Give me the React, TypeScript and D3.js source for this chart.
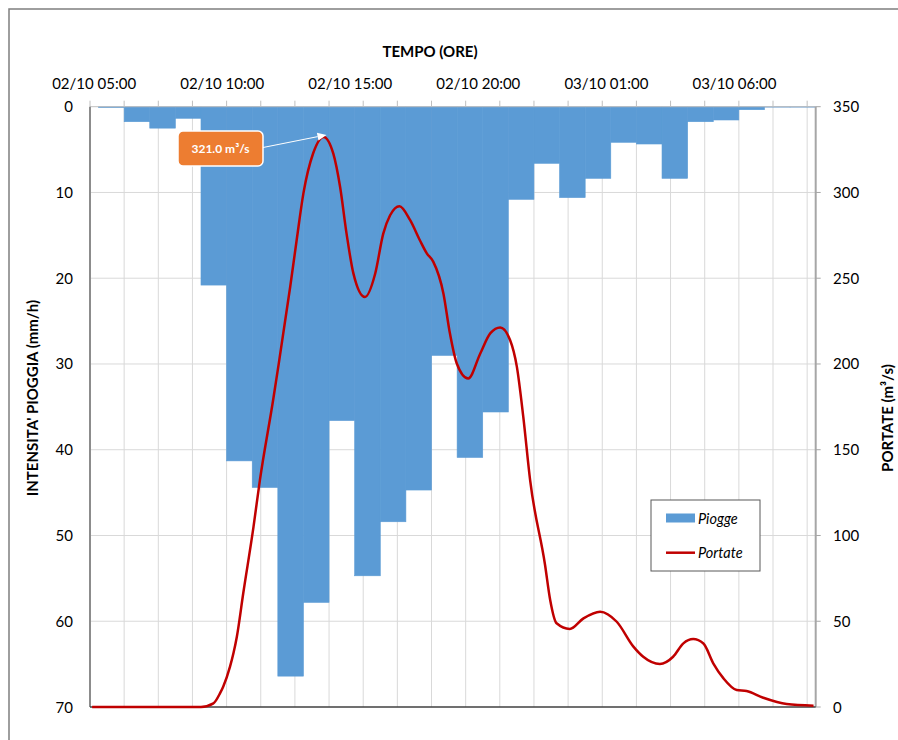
import React from 'react';
import * as d3 from 'd3';

const parse = d3.timeParse('%d/%m %H:%M');

// Hourly rainfall intensity (mm/h), each bar starts at the given time and lasts one hour
const rainStart = [
  '02/10 05:15', '02/10 06:15', '02/10 07:15', '02/10 08:15', '02/10 09:15', '02/10 10:15', '02/10 11:15',
  '02/10 12:15', '02/10 13:15', '02/10 14:15', '02/10 15:15', '02/10 16:15', '02/10 17:15', '02/10 18:15',
  '02/10 19:15', '02/10 20:15', '02/10 21:15', '02/10 22:15', '02/10 23:15', '03/10 00:15', '03/10 01:15',
  '03/10 02:15', '03/10 03:15', '03/10 04:15', '03/10 05:15', '03/10 06:15', '03/10 07:15', '03/10 08:15',
];
const rainValues = [
  0.1, 1.75, 2.5, 1.35, 20.8, 41.3, 44.4, 66.4, 57.8, 36.6, 54.7, 48.4, 44.7, 29.0,
  40.9, 35.6, 10.8, 6.6, 10.6, 8.35, 4.15, 4.35, 8.35, 1.75, 1.55, 0.35, 0.05, 0.05,
];

// Discharge (m3/s)
const flowTimes = [
  '02/10 05:00', '02/10 09:15', '02/10 09:44', '02/10 10:00', '02/10 10:07', '02/10 10:23', '02/10 10:31',
  '02/10 10:39', '02/10 10:54', '02/10 11:18', '02/10 11:33', '02/10 12:04', '02/10 12:16', '02/10 12:44',
  '02/10 12:59', '02/10 13:15', '02/10 13:38', '02/10 14:02', '02/10 14:25', '02/10 14:41', '02/10 14:56',
  '02/10 15:12', '02/10 15:39', '02/10 16:03', '02/10 16:22', '02/10 16:38', '02/10 17:00', '02/10 17:25',
  '02/10 17:48', '02/10 18:04', '02/10 18:19', '02/10 18:43', '02/10 18:58', '02/10 19:14', '02/10 19:41',
  '02/10 20:09', '02/10 20:33', '02/10 20:56', '02/10 21:19', '02/10 21:35', '02/10 21:50', '02/10 22:06',
  '02/10 22:41', '02/10 22:53', '02/10 23:08', '02/10 23:39', '03/10 00:11', '03/10 00:50', '03/10 01:29',
  '03/10 02:08', '03/10 02:31', '03/10 03:10', '03/10 03:41', '03/10 04:05', '03/10 04:28', '03/10 04:52',
  '03/10 05:15', '03/10 05:39', '03/10 06:10', '03/10 06:33', '03/10 07:12', '03/10 08:07', '03/10 09:10',
];
const flowValues = [
  0, 0, 2.1, 8.2, 11.8, 23.5, 31.3,
  41, 66.3, 105, 132.3, 179, 198.3, 245,
  272, 299.6, 323, 332.4, 322.6, 303, 276,
  252.8, 239, 252.6, 276, 286.7, 292, 283.8,
  272, 264.5, 259.7, 241, 218, 200.4, 191.5,
  206, 218, 221.3, 214, 198.3, 169.2, 132.3,
  82.8, 62.4, 48.8, 45.5, 51.7, 55.6, 49.7,
  35.2, 29.3, 25.1, 29.3, 37.1, 39.6, 37,
  25.5, 16.7, 9.9, 9.3, 5.4, 1.7, 0.8,
];

const topTickLabels = ['02/10 05:00', '02/10 10:00', '02/10 15:00', '02/10 20:00', '03/10 01:00', '03/10 06:00'];
const rainTicks = [0, 10, 20, 30, 40, 50, 60, 70];
const flowTicks = [0, 50, 100, 150, 200, 250, 300, 350];
const xDomain = ['02/10 04:55', '03/10 09:15'];
const gridStepMinutes = 80;
const peakLabel = '321.0 m³/s';
const peakTime = '02/10 14:02';
const peakValue = 332.4;

const FONT = 'Lato, "Open Sans", sans-serif';

export default function App() {
  const W = 898;
  const H = 740;
  const left = 90;
  const right = 815.7;
  const top = 106.7;
  const bottom = 707;

  const d0 = parse(xDomain[0])!;
  const d1 = parse(xDomain[1])!;
  const x = d3.scaleTime().domain([d0, d1]).range([left, right]);
  const yR = d3.scaleLinear().domain([0, 70]).range([top, bottom]);
  const yQ = d3.scaleLinear().domain([0, 350]).range([bottom, top]);

  const nGrid = Math.floor((+d1 - +d0) / (gridStepMinutes * 60000));
  const gridTimes = d3.range(0, nGrid + 1).map((k) => d3.timeMinute.offset(d0, gridStepMinutes * k));

  const bars = rainStart.map((s, i) => {
    const t = parse(s)!;
    return { t0: t, t1: d3.timeHour.offset(t, 1), v: rainValues[i] };
  });
  const flow = flowTimes.map((s, i) => ({ t: parse(s)!, v: flowValues[i] }));
  const line = d3
    .line<{ t: Date; v: number }>()
    .x((d) => x(d.t))
    .y((d) => yQ(d.v))
    .curve(d3.curveMonotoneX);

  const px = x(parse(peakTime)!);
  const py = yQ(peakValue);
  const boxX = 178;
  const boxY = 131;
  const boxW = 85;
  const boxH = 35;
  const ax0 = boxX + boxW;
  const ay0 = boxY + 16.5;
  const ax1 = px + 3;
  const ay1 = py - 2;
  const ang = Math.atan2(ay1 - ay0, ax1 - ax0);
  const ah = 9;
  const aw = 4;
  const bx = ax1 - ah * Math.cos(ang);
  const by = ay1 - ah * Math.sin(ang);
  const arrowHead = `M${ax1},${ay1} L${bx - aw * Math.sin(ang)},${by + aw * Math.cos(ang)} L${bx + aw * Math.sin(ang)},${by - aw * Math.cos(ang)} Z`;

  return (
    <svg width={W} height={H} style={{ position: 'absolute', left: 0, top: 0, background: '#fff' }} fontFamily={FONT}>
      <rect x={0} y={0} width={W} height={H} fill="#fff" />
      <rect x={9} y={9} width={W + 20} height={H + 20} fill="#fff" stroke="#7f7f7f" strokeWidth={1.5} />

      {/* gridlines */}
      {rainTicks.slice(1, -1).map((v) => (
        <line key={'h' + v} x1={left} x2={right} y1={yR(v)} y2={yR(v)} stroke="#d9d9d9" strokeWidth={1} />
      ))}
      {gridTimes.slice(1).map((t, i) => (
        <line key={'v' + i} x1={x(t)} x2={x(t)} y1={top} y2={bottom} stroke="#d9d9d9" strokeWidth={1} />
      ))}

      {/* rain bars */}
      {bars.map((b, i) => (
        <rect
          key={'b' + i}
          x={x(b.t0)}
          y={yR(0)}
          width={x(b.t1) - x(b.t0)}
          height={yR(b.v) - yR(0)}
          fill="#5b9bd5"
          stroke="#5b9bd5"
          strokeWidth={0.6}
        />
      ))}

      {/* top axis */}
      <line x1={left} x2={right} y1={top} y2={top} stroke="#bfbfbf" strokeWidth={1} />
      {gridTimes.map((t, i) => (
        <line key={'tt' + i} x1={x(t)} x2={x(t)} y1={top - 6} y2={top} stroke="#bfbfbf" strokeWidth={1} />
      ))}
      {topTickLabels.map((s) => (
        <text key={s} x={x(parse(s)!) + 2} y={89} textAnchor="middle" fontSize={15} fill="#000">
          {s}
        </text>
      ))}
      <text x={430} y={57} textAnchor="middle" fontSize={15} fontWeight="bold" fill="#000">
        TEMPO (ORE)
      </text>

      {/* left axis */}
      <line x1={left} x2={left} y1={top} y2={bottom} stroke="#8c8c8c" strokeWidth={2} />
      {rainTicks.map((v) => (
        <text key={'lr' + v} x={73} y={yR(v) + 5.5} textAnchor="end" fontSize={15} fill="#000">
          {v}
        </text>
      ))}
      <text
        transform={`translate(38, ${398}) rotate(-90)`}
        textAnchor="middle"
        fontSize={15}
        fontWeight="bold"
        fill="#000"
      >
        INTENSITA' PIOGGIA (mm/h)
      </text>

      {/* right axis */}
      <line x1={right} x2={right} y1={top} y2={bottom} stroke="#a6a6a6" strokeWidth={2} />
      {flowTicks.map((v) => (
        <g key={'rq' + v}>
          <line x1={right} x2={right + 5} y1={yQ(v)} y2={yQ(v)} stroke="#a6a6a6" strokeWidth={1} />
          <text x={833} y={yQ(v) + 5.5} textAnchor="start" fontSize={15} fill="#000">
            {v}
          </text>
        </g>
      ))}
      <text
        transform={`translate(893, ${418}) rotate(-90)`}
        textAnchor="middle"
        fontSize={15}
        fontWeight="bold"
        fill="#000"
      >
        PORTATE (m³/s)
      </text>

      {/* bottom axis */}
      <line x1={left} x2={right} y1={bottom} y2={bottom} stroke="#404040" strokeWidth={1.5} />

      {/* discharge line */}
      <path d={line(flow) || ''} fill="none" stroke="#c00000" strokeWidth={2.5} strokeLinejoin="round" />

      {/* annotation */}
      <line x1={ax0} y1={ay0} x2={bx} y2={by} stroke="#fff" strokeWidth={1} />
      <path d={arrowHead} fill="#fff" />
      <rect x={boxX} y={boxY} width={boxW} height={boxH} rx={5} fill="#ed7d31" stroke="#fff" strokeWidth={1.5} />
      <text x={boxX + boxW / 2} y={boxY + boxH / 2 + 4.5} textAnchor="middle" fontSize={12} fontWeight="bold" fill="#fff">
        {peakLabel}
      </text>

      {/* legend */}
      <rect x={651} y={500} width={109} height={71} fill="#fff" stroke="#595959" strokeWidth={1} />
      <rect x={666} y={513.5} width={29} height={9} fill="#5b9bd5" />
      <text x={698} y={523.5} fontSize={14.5} fontStyle="italic" fill="#000">
        Piogge
      </text>
      <line x1={666} x2={695} y1={552.7} y2={552.7} stroke="#c00000" strokeWidth={2.5} />
      <text x={698} y={558} fontSize={14.5} fontStyle="italic" fill="#000">
        Portate
      </text>
    </svg>
  );
}
